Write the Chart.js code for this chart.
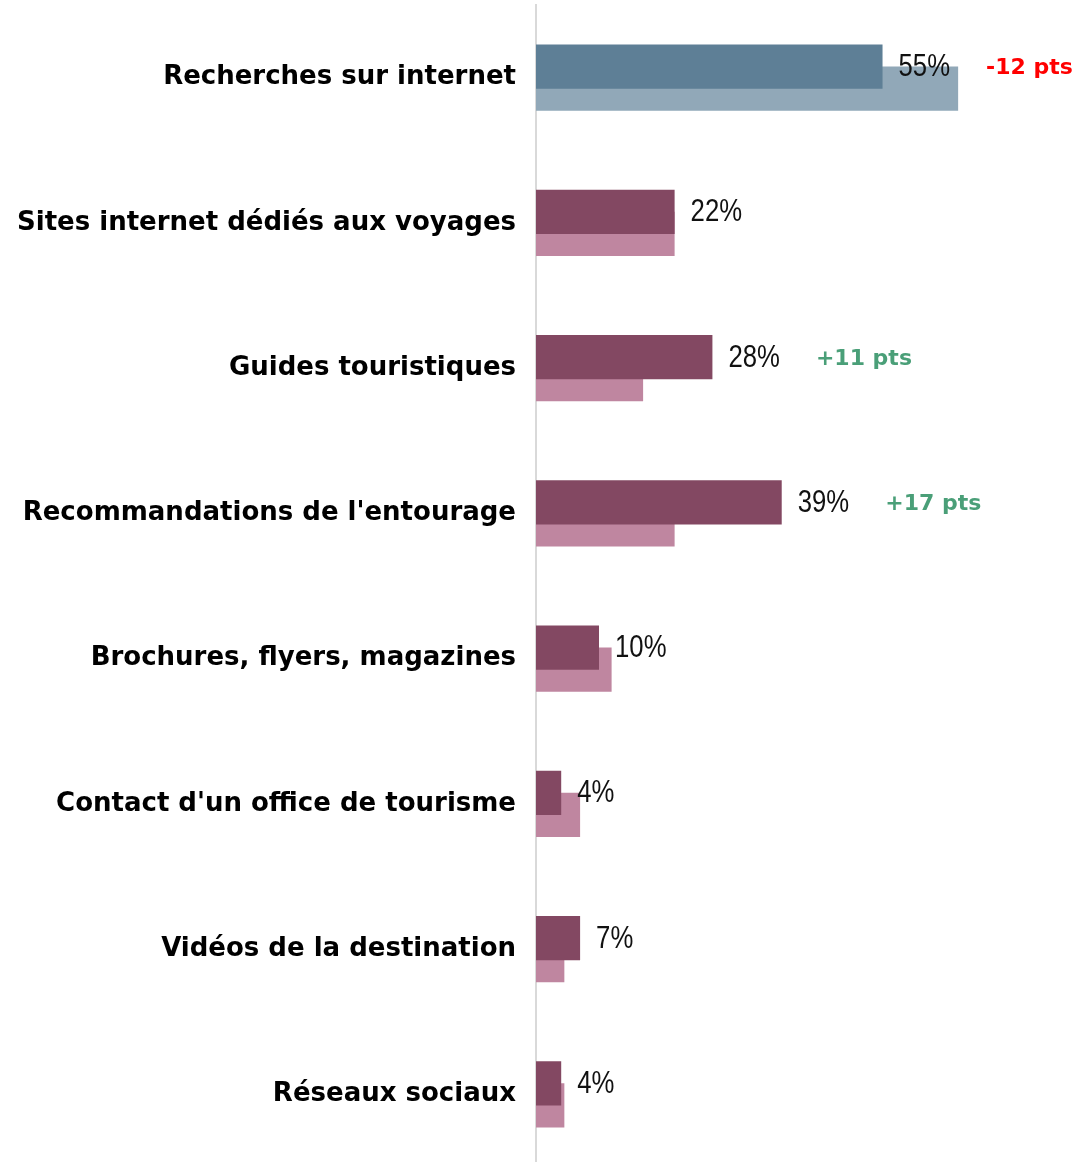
<!DOCTYPE html>
<html lang="fr">
<head>
<meta charset="utf-8">
<title>Sources d'information</title>
<script src="https://cdn.jsdelivr.net/npm/chart.js@4/dist/chart.umd.min.js"></script>
<style>
  html, body { margin: 0; padding: 0; background: #ffffff; overflow: hidden; }
  #wrap { position: relative; width: 1081px; height: 1167px; }
  #chart { display: block; }
</style>
</head>
<body>
<div id="wrap"><canvas id="chart" width="1081" height="1167"></canvas></div>
<script>
// Sources consultées, en % (année en cours et année précédente)
const categories = [
  'Recherches sur internet',
  'Sites internet dédiés aux voyages',
  'Guides touristiques',
  "Recommandations de l'entourage",
  'Brochures, flyers, magazines',
  "Contact d'un office de tourisme",
  'Vidéos de la destination',
  'Réseaux sociaux'
];
const currentValues = [55, 22, 28, 39, 10, 4, 7, 4];
const previousValues = [67, 22, 17, 22, 12, 7, 4.5, 4.5];
const valueLabels = ['55%', '22%', '28%', '39%', '10%', '4%', '7%', '4%'];
const evolutionLabels = ['-12 pts', '', '+11 pts', '+17 pts', '', '', '', ''];

const currentColors = ['#5E7F96', '#834862', '#834862', '#834862', '#834862', '#834862', '#834862', '#834862'];
const previousColors = ['#91A8B8', '#BF86A0', '#BF86A0', '#BF86A0', '#BF86A0', '#BF86A0', '#BF86A0', '#BF86A0'];

const VALUE_FONT = "31px 'Liberation Sans', Arial, sans-serif";
const VALUE_NARROW = 0.83; // condensed rendering of the percentage labels
const EVOL_FONT = "bold 22px 'DejaVu Sans', sans-serif";

// Étiquettes de valeur et d'évolution à droite des barres
const barLabels = {
  id: 'barLabels',
  afterDatasetsDraw(chart) {
    const ctx = chart.ctx;
    const meta = chart.getDatasetMeta(0);
    meta.data.forEach((bar, i) => {
      const x = bar.x + 16;
      const y = bar.y;
      ctx.save();
      ctx.textBaseline = 'middle';
      ctx.textAlign = 'left';
      ctx.font = VALUE_FONT;
      ctx.fillStyle = '#111111';
      ctx.translate(x, y + 1);
      ctx.scale(VALUE_NARROW, 1);
      ctx.fillText(valueLabels[i], 0, 0);
      const w = ctx.measureText(valueLabels[i]).width * VALUE_NARROW;
      ctx.restore();
      const evo = evolutionLabels[i];
      if (evo) {
        ctx.save();
        ctx.textBaseline = 'middle';
        ctx.textAlign = 'left';
        ctx.font = EVOL_FONT;
        ctx.fillStyle = evo.startsWith('-') ? '#FF0000' : '#4A9F78';
        ctx.fillText(evo, x + w + 36, y + 2);
        ctx.restore();
      }
    });
  }
};

new Chart(document.getElementById('chart'), {
  type: 'bar',
  data: {
    labels: categories,
    datasets: [
      {
        label: 'Cette année',
        data: currentValues,
        backgroundColor: currentColors,
        borderWidth: 0,
        categoryPercentage: 0.3034,
        barPercentage: 2.0
      },
      {
        label: 'Année précédente',
        data: previousValues,
        backgroundColor: previousColors,
        borderWidth: 0,
        categoryPercentage: 0.3034,
        barPercentage: 2.0
      }
    ]
  },
  options: {
    indexAxis: 'y',
    responsive: false,
    animation: false,
    devicePixelRatio: 1,
    layout: { padding: { top: 5, bottom: 0, left: 0, right: 0 } },
    plugins: {
      legend: { display: false },
      tooltip: { enabled: false }
    },
    scales: {
      x: {
        display: false,
        min: 0,
        max: 86.5
      },
      y: {
        afterFit(scale) {
          scale.width = 536;
          scale.paddingTop = 0;
          scale.paddingBottom = 0;
        },
        grid: { display: false, drawTicks: false },
        border: { display: true, color: '#D9D9D9', width: 2 },
        ticks: {
          padding: 20,
          color: '#000000',
          font: { family: "'DejaVu Sans', sans-serif", size: 26, weight: 'bold' }
        }
      }
    }
  },
  plugins: [barLabels]
});
</script>
</body>
</html>
